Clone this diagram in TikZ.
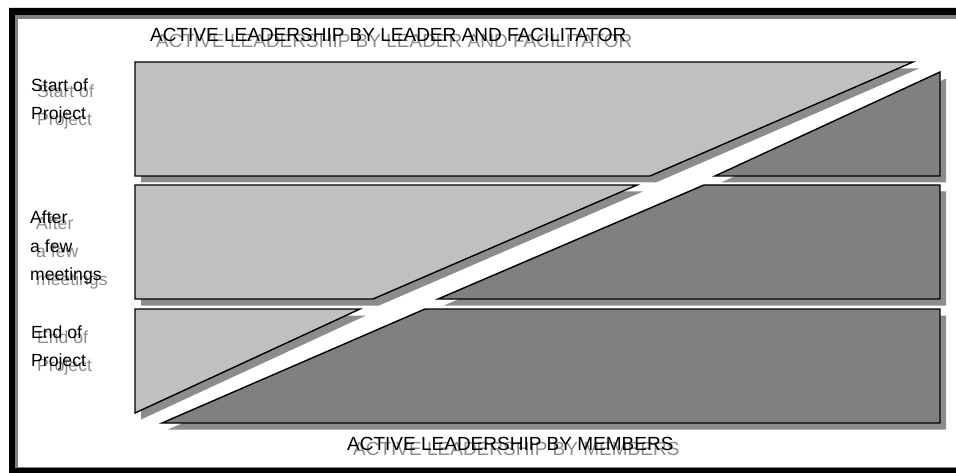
\documentclass[tikz,border=0pt]{standalone}
\usepackage{fontspec}
\setmainfont{Liberation Sans}
\definecolor{lightfill}{HTML}{C0C0C0}
\definecolor{darkfill}{HTML}{808080}
\definecolor{shade}{HTML}{8C8C8C}
\definecolor{frameshade}{HTML}{808080}
% text with a grey drop copy behind it
\newcommand\sdtext[5][lbl]{%
  \node[#1,text=shade] (#2s) at (#3+6,#4+5.5) {#5};
  \node[#1] (#2) at (#3,#4) {#5};}
\begin{document}
\begin{tikzpicture}[x=1pt,y=-1pt,
  lbl/.style={anchor=base west,inner sep=0pt,font=\fontsize{17.6}{20}\selectfont},
  ttl/.style={anchor=base west,inner sep=0pt,font=\fontsize{19}{22}\selectfont},
  lightpart/.style={fill=lightfill,draw=black,line width=1.4pt,line join=miter},
  darkpart/.style={fill=darkfill,draw=black,line width=1.4pt,line join=miter},
  dropshade/.style={fill=shade}]
\useasboundingbox (0,0) rectangle (956,473);
% outer frame
\fill[black,even odd rule] (9,8) rectangle (980,490) (15,15) rectangle (975,468);
\fill[frameshade] (15,15) rectangle (956,19);
\fill[frameshade] (15,15) rectangle (18,468);
\fill[frameshade] (15,466.8) rectangle (956,468);
% drop shadows of the bars
\begin{scope}[shift={(6,6.5)}]
  \fill[dropshade] (135,62) -- (913,62) -- (650,176) -- (135,176) -- cycle;
  \fill[dropshade] (940,72) -- (940,176) -- (715,176) -- cycle;
  \fill[dropshade] (135,185) -- (637,185) -- (373,299) -- (135,299) -- cycle;
  \fill[dropshade] (704,185) -- (940,185) -- (940,299) -- (438,299) -- cycle;
  \fill[dropshade] (135,309) -- (360,309) -- (135,413) -- cycle;
  \fill[dropshade] (425,309) -- (940,309) -- (940,423) -- (162,423) -- cycle;
\end{scope}
% row 1: start of project
\draw[lightpart] (135,62) -- (913,62) -- (650,176) -- (135,176) -- cycle;
\draw[darkpart] (940,72) -- (940,176) -- (715,176) -- cycle;
% row 2: after a few meetings
\draw[lightpart] (135,185) -- (637,185) -- (373,299) -- (135,299) -- cycle;
\draw[darkpart] (704,185) -- (940,185) -- (940,299) -- (438,299) -- cycle;
% row 3: end of project
\draw[lightpart] (135,309) -- (360,309) -- (135,413) -- cycle;
\draw[darkpart] (425,309) -- (940,309) -- (940,423) -- (162,423) -- cycle;
% titles
\sdtext[ttl]{toptitle}{150}{42}{ACTIVE LEADERSHIP BY LEADER AND FACILITATOR}
\sdtext[ttl]{bottomtitle}{347}{450}{ACTIVE LEADERSHIP BY MEMBERS}
% row labels
\sdtext{startA}{31}{92}{Start of}
\sdtext{startB}{31}{120}{Project}
\sdtext{afterA}{30}{224}{After}
\sdtext{afterB}{30}{252}{a few}
\sdtext{afterC}{30}{280}{meetings}
\sdtext{endA}{31}{338}{End of}
\sdtext{endB}{31}{366}{Project}
\end{tikzpicture}
\end{document}
